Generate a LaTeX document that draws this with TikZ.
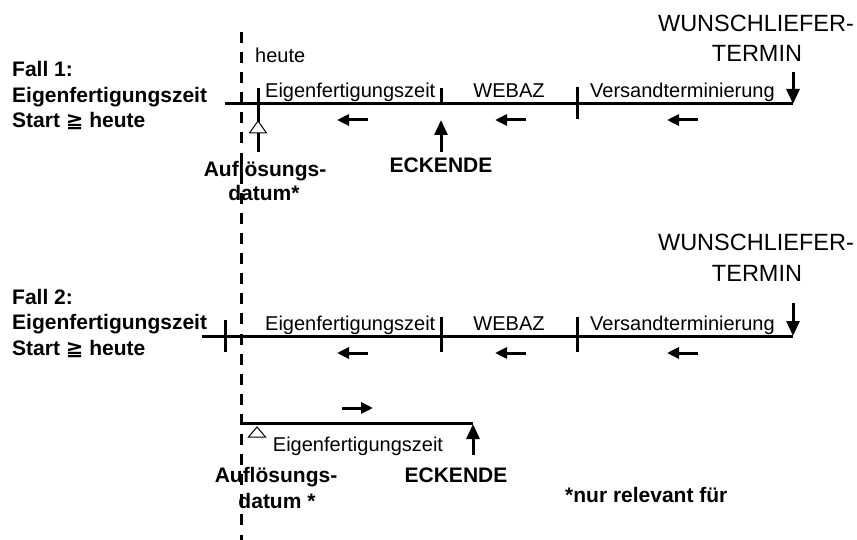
\documentclass[tikz,border=0pt]{standalone}
\usepackage{fontspec}
\setmainfont{Liberation Sans}
\newfontfamily\dejavu{DejaVu Sans}
\usetikzlibrary{arrows.meta}
\begin{document}
\begin{tikzpicture}[x=1pt,y=-1pt,
  tl/.style={line width=3pt},
  reg/.style={font=\fontsize{20}{24}\selectfont, inner sep=0pt},
  bld/.style={font=\bfseries\fontsize{21}{25}\selectfont, inner sep=0pt},
  big/.style={font=\fontsize{23.5}{28}\selectfont, inner sep=0pt},
  bigarrow/.style={line width=3pt, -{Triangle[length=15pt,width=13pt]}},
  smallarrow/.style={line width=3pt, -{Triangle[length=12pt,width=11pt]}},
  opentri/.style={draw, fill=white, line width=1pt},
  heuteline/.style={line width=3pt, dash pattern=on 11pt off 9.1pt}
]
\useasboundingbox (0,0) rectangle (857,540);

% dashed "heute" line
\coordinate (h1) at (241,32);
\coordinate (h2) at (241,540);
\draw[heuteline] (h1) -- (h2);
\node[reg, anchor=base west] (heute) at (255,63) {heute};

% ---------------- Fall 1 ----------------
\node[bld, anchor=base west] (f1a) at (12,77) {Fall 1:};
\node[bld, anchor=base west] (f1b) at (12,103) {Eigenfertigungszeit};
\node[bld, anchor=base west] (f1c) at (12,128) {Start {\dejavu ≧} heute};

\coordinate (l1s) at (225,104);
\coordinate (l1e) at (793,104);
\draw[tl] (l1s) -- (l1e);

\node[big, anchor=base] (w1a) at (756,32) {WUNSCHLIEFER-};
\node[big, anchor=base] (w1b) at (757,62) {TERMIN};
\coordinate (d1) at (793,72);
\draw[bigarrow] (d1) -- (l1e);

\node[reg, anchor=base west] (e1) at (265,98) {Eigenfertigungszeit};
\node[reg, anchor=base] (wb1) at (509,98) {WEBAZ};
\node[reg, anchor=base west] (v1) at (590,98) {Versandterminierung};

% ticks
\coordinate (t1a) at (258,88);
\coordinate (t1b) at (258,152);
\draw[tl] (t1a) -- (t1b);
\draw[opentri] (258,121) -- (266.5,133) -- (249.5,133) -- cycle;
\coordinate (t2a) at (441,88);
\coordinate (t2b) at (441,104);
\draw[tl] (t2a) -- (t2b);
\coordinate (t3a) at (577,87);
\coordinate (t3b) at (577,119);
\draw[tl] (t3a) -- (t3b);

% ECKENDE arrow
\coordinate (ea1) at (441,152);
\coordinate (eb1) at (441,120);
\draw[bigarrow] (ea1) -- (eb1);
\node[bld, anchor=base] (eck1) at (441,173) {ECKENDE};

\node[bld, anchor=base] (au1) at (265,177) {Auflösungs-};
\node[bld, anchor=base] (da1) at (264,201) {datum*};

% small left arrows
\coordinate (s1a) at (368,120); \coordinate (s1b) at (337,120);
\coordinate (s2a) at (526,120); \coordinate (s2b) at (495,120);
\coordinate (s3a) at (698,120); \coordinate (s3b) at (667,120);
\draw[smallarrow] (s1a) -- (s1b);
\draw[smallarrow] (s2a) -- (s2b);
\draw[smallarrow] (s3a) -- (s3b);

% ---------------- Fall 2 ----------------
\node[bld, anchor=base west] (f2a) at (12,304) {Fall 2:};
\node[bld, anchor=base west] (f2b) at (12,329.5) {Eigenfertigungszeit};
\node[bld, anchor=base west] (f2c) at (12,355) {Start {\dejavu ≧} heute};

\coordinate (l2s) at (202,336);
\coordinate (l2e) at (793,336);
\draw[tl] (l2s) -- (l2e);

\node[big, anchor=base] (w2a) at (756,251) {WUNSCHLIEFER-};
\node[big, anchor=base] (w2b) at (757,282) {TERMIN};
\coordinate (d2) at (793,303);
\draw[bigarrow] (d2) -- (l2e);

\node[reg, anchor=base west] (e2) at (265,330) {Eigenfertigungszeit};
\node[reg, anchor=base] (wb2) at (509,330) {WEBAZ};
\node[reg, anchor=base west] (v2) at (590,330) {Versandterminierung};

\coordinate (u1a) at (225,320); \coordinate (u1b) at (225,352);
\coordinate (u2a) at (441,317); \coordinate (u2b) at (441,352);
\coordinate (u3a) at (577,317); \coordinate (u3b) at (577,352);
\draw[tl] (u1a) -- (u1b);
\draw[tl] (u2a) -- (u2b);
\draw[tl] (u3a) -- (u3b);

\coordinate (r1a) at (368,353); \coordinate (r1b) at (337,353);
\coordinate (r2a) at (526,353); \coordinate (r2b) at (495,353);
\coordinate (r3a) at (698,353); \coordinate (r3b) at (667,353);
\draw[smallarrow] (r1a) -- (r1b);
\draw[smallarrow] (r2a) -- (r2b);
\draw[smallarrow] (r3a) -- (r3b);

% lower timeline
\coordinate (b1s) at (241,423);
\coordinate (b1e) at (473,423);
\draw[tl] (b1s) -- (b1e);
\coordinate (ra) at (342,408); \coordinate (rb) at (373,408);
\draw[smallarrow] (ra) -- (rb);
\draw[opentri] (257,427) -- (265.5,437) -- (248.5,437) -- cycle;
\coordinate (ua) at (473,455); \coordinate (ub) at (473,424);
\draw[bigarrow] (ua) -- (ub);
\node[reg, anchor=base] (e3) at (358,451) {Eigenfertigungszeit};
\node[bld, anchor=base] (au2) at (276,482) {Auflösungs-};
\node[bld, anchor=base] (da2) at (277,508) {datum *};
\node[bld, anchor=base] (eck2) at (456,482) {ECKENDE};

\node[bld, anchor=base west] (nur) at (565,502) {*nur relevant für};
\end{tikzpicture}
\end{document}
